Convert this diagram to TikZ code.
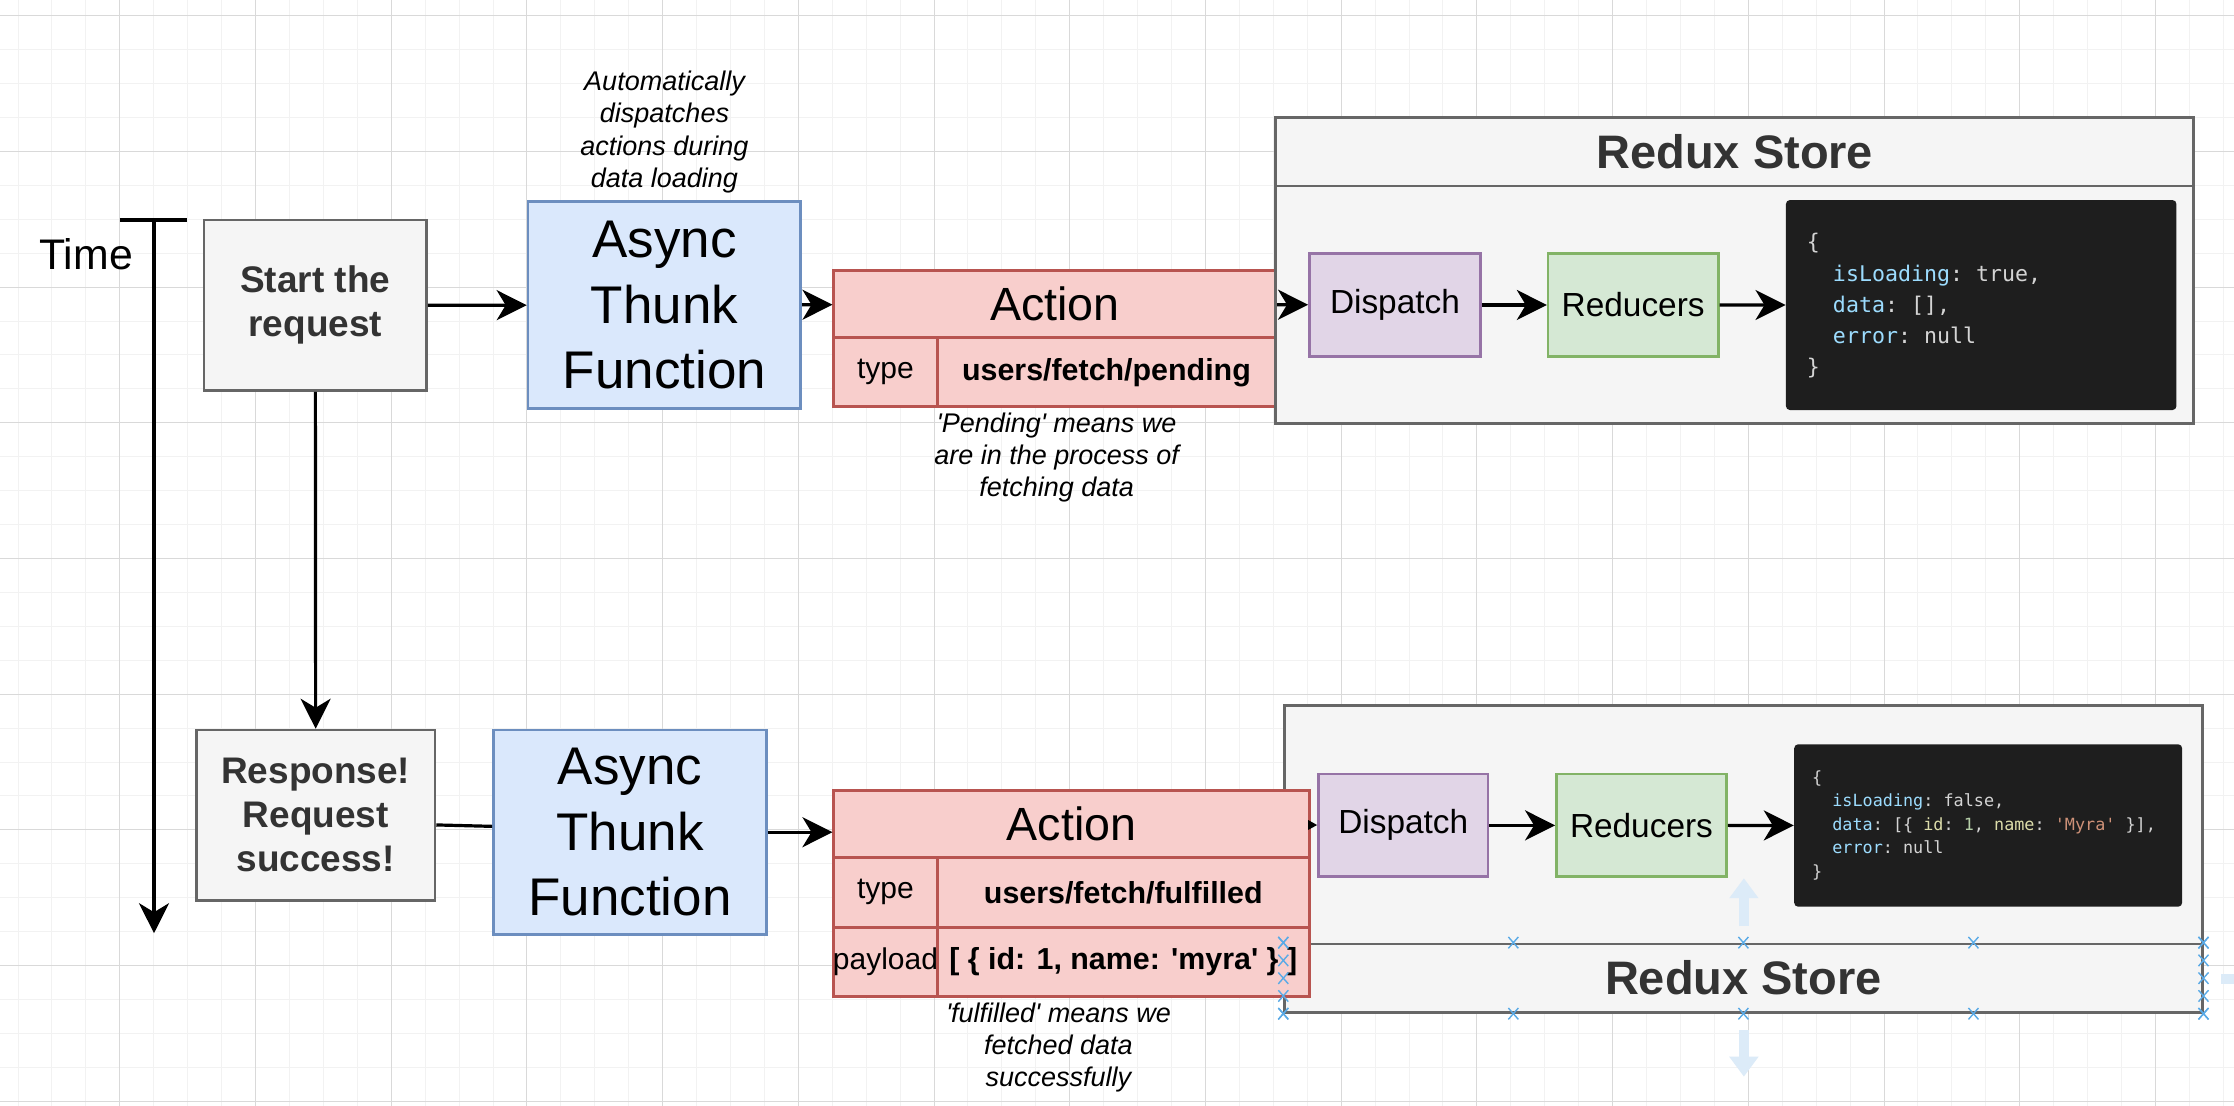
\documentclass[tikz,border=0pt]{standalone}
\usepackage{fontspec}
\setmainfont{Liberation Sans}
\setmonofont{DejaVu Sans Mono}
\usepackage{tikz}
\usetikzlibrary{arrows.meta,calc,shapes.misc}
\definecolor{greyfill}{HTML}{F5F5F5}
\definecolor{greyline}{HTML}{666666}
\definecolor{greytext}{HTML}{333333}
\definecolor{thunkfill}{HTML}{DAE8FC}
\definecolor{thunkline}{HTML}{6C8EBF}
\definecolor{actfill}{HTML}{F8CECC}
\definecolor{actline}{HTML}{B85450}
\definecolor{dispfill}{HTML}{E1D5E7}
\definecolor{displine}{HTML}{9673A6}
\definecolor{redfill}{HTML}{D5E8D4}
\definecolor{redline}{HTML}{82B366}
\definecolor{codebg}{HTML}{1E1E1E}
\definecolor{codetxt}{HTML}{D4D4D4}
\definecolor{codekey}{HTML}{9CDCFE}
\definecolor{codeprop}{HTML}{DCDCAA}
\definecolor{codenum}{HTML}{B5CEA8}
\definecolor{codestr}{HTML}{CE9178}
\definecolor{gridminor}{HTML}{F2F2F2}
\definecolor{gridmajor}{HTML}{D9D9D9}
\definecolor{selblue}{HTML}{5AAAE6}
\definecolor{hoverblue}{HTML}{DCEBF8}
\newcommand{\ux}{0.7125pt}
\newcommand{\ind}{\phantom{aa}}
\newcommand{\sq}{\textquotesingle}

\tikzset{
  sz/.style 2 args={minimum width=#1*\ux, minimum height=#2*\ux},
  flow/.style={line width=1.6pt, -{Stealth[length=15pt,width=15pt,inset=4.5pt]}},
  greybox/.style={draw=greyline, fill=greyfill, line width=1.3pt, text=greytext, inner sep=0pt, align=center, font={\fontsize{18.5}{22}\selectfont\bfseries}},
  thunk/.style={draw=thunkline, fill=thunkfill, line width=1.3pt, inner sep=0pt, align=center, font={\fontsize{26.5}{32.9}\selectfont}},
  actcell/.style={draw=actline, fill=actfill, line width=1.3pt, inner sep=0pt, font={\fontsize{15}{18}\selectfont}},
  acthead/.style={actcell, font={\fontsize{23.3}{28}\selectfont}},
  actval/.style={actcell, font={\fontsize{15.2}{18}\selectfont\bfseries}},
  storecell/.style={draw=greyline, fill=greyfill, line width=1.4pt, inner sep=0pt, text=greytext, font={\fontsize{23.5}{28}\selectfont\bfseries}},
  dispbox/.style={draw=displine, fill=dispfill, line width=1.3pt, inner sep=0pt, font={\fontsize{16.7}{20}\selectfont}},
  redbox/.style={draw=redline, fill=redfill, line width=1.3pt, inner sep=0pt, font={\fontsize{16.7}{20}\selectfont}},
  codebox/.style={fill=codebg, rounded corners=2pt, inner sep=0pt},
  codetext/.style={text=codetxt, inner sep=0pt, align=left, anchor=west},
  remark/.style={inner sep=0pt, align=center, font={\fontsize{13.5}{16.2}\selectfont\itshape}},
  selmark/.style={cross out, draw=selblue, line width=0.7pt, minimum width=4.3pt, minimum height=5pt, inner sep=0pt},
  hover/.style={draw=hoverblue, line width=5pt, -{Triangle[length=10pt,width=14pt]}}
}

\begin{document}
\begin{tikzpicture}[x=0.7125pt, y=-0.7125pt]
\useasboundingbox (0,0) rectangle (1568,776);
\clip (0,0) rectangle (1568,776);
\fill[white] (0,0) rectangle (1568,776);

% background grid
\foreach \i in {0,...,65}
  \draw[gridminor, line width=0.5pt] ({12.66+\i*23.8125},0) -- ++(0,776);
\foreach \j in {0,...,32}
  \draw[gridminor, line width=0.5pt] (0,{11+\j*23.8125}) -- ++(1568,0);
\foreach \i in {0,...,15}
  \draw[gridmajor, line width=0.5pt] ({84.1+\i*95.25},0) -- ++(0,776);
\foreach \j in {0,...,8}
  \draw[gridmajor, line width=0.5pt] (0,{11+\j*95.25}) -- ++(1568,0);

% time axis
\node[font={\fontsize{21.4}{25}\selectfont}, anchor=base, inner sep=0pt] (timelbl) at (60.4,189.5) {Time};
\coordinate (tickL) at (84.2,154.4);
\coordinate (tickR) at (131.4,154.4);
\coordinate (timeTop) at (108.1,154.4);
\coordinate (timeEnd) at (108.1,655);

% first request: pending
\node[greybox, sz={156.2}{119.8}] (start) at (221.3,214.3) {Start the\\request};
\node[thunk, sz={191.4}{145}] (thunkA) at (466.3,214.1) {Async\\Thunk\\Function};
\node[remark] (noteAuto) at (466.4,92.7) {Automatically\\dispatches\\actions during\\data loading};

\node[acthead, sz={310.2}{47}] (actA) at (740.3,213.5) {Action};
\node[actcell, sz={72.6}{48.5}] (typeA) at (621.5,261.25) {type};
\node[actval, sz={237.6}{48.5}] (valA) at (776.6,261.25) {users/fetch/pending};
\node[remark] (notePend) at (741.6,321.1) {\sq Pending\sq{} means we\\are in the process of\\fetching data};

\node[storecell, sz={644.4}{48.1}] (storeAhead) at (1217.6,106.45) {Redux Store};
\node[storecell, sz={644.4}{166.6}] (storeAbody) at (1217.6,213.8) {};
\node[dispbox, sz={120.2}{72.5}] (dispA) at (979.1,214.05) {Dispatch};
\node[redbox, sz={119.4}{72.5}] (redA) at (1146.3,214.05) {Reducers};
\node[codebox, sz={274.1}{147.4}] (codeA) at (1390.55,214.1) {};
\node[codetext, font={\fontsize{10.8}{15.6}\selectfont\ttfamily}] (stateA) at (1268,214.6) {%
\{\\
\ind\textcolor{codekey}{isLoading}: true,\\
\ind\textcolor{codekey}{data}: [],\\
\ind\textcolor{codekey}{error}: null\\
\}};

% second request: fulfilled
\node[storecell, sz={643.9}{167.3}] (storeBbody) at (1223.65,578.95) {};
\node[storecell, sz={643.9}{47.9}] (storeBhead) at (1223.65,686.55) {Redux Store};
\node[dispbox, sz={118.8}{72}] (dispB) at (984.9,579.3) {Dispatch};
\node[redbox, sz={119.4}{72}] (redB) at (1152.1,579.3) {Reducers};
\node[codebox, sz={272.3}{114}] (codeB) at (1395.45,579.4) {};
\node[codetext, font={\fontsize{8.4}{11.75}\selectfont\ttfamily}] (stateB) at (1271.6,579.3) {%
\{\\
\ind\textcolor{codekey}{isLoading}: false,\\
\ind\textcolor{codekey}{data}: [\{ \textcolor{codeprop}{id}: \textcolor{codenum}{1}, \textcolor{codeprop}{name}: \textcolor{codestr}{'Myra'} \}],\\
\ind\textcolor{codekey}{error}: null\\
\}};

\node[acthead, sz={333.8}{46.8}] (actB) at (752.1,578.4) {Action};
\node[actcell, sz={72.6}{49.1}] (typeB) at (621.5,626.35) {type};
\node[actval, sz={261.2}{49.1}] (valB) at (788.4,626.35) {users/fetch/fulfilled};
\node[actcell, sz={72.6}{48.6}] (payB) at (621.5,675.2) {\makebox[0pt]{payload}};
\node[actval, sz={261.2}{48.6}] (dataB) at (788.4,675.2) {[ \{ id: 1, name: \sq myra\sq{} \} ]};
\node[remark] (noteFul) at (742.9,735.2) {\sq fulfilled\sq{} means we\\fetched data\\successfully};

\node[greybox, sz={167.4}{119.8}] (resp) at (221.6,572.3) {Response!\\Request\\success!};
\node[thunk, sz={191.8}{143.4}] (thunkB) at (442.2,584.1) {Async\\Thunk\\Function};

% connectors
\draw[line width=1.6pt] (tickL) -- (tickR);
\draw[flow] (timeTop) -- (timeEnd);
\draw[flow] (start) -- (thunkA);
\draw[flow] (thunkA) -- (actA);
\draw[flow] (actA) -- (dispA);
\draw[flow] (dispA) -- (redA);
\draw[flow] (redA) -- (codeA);
\draw[flow] (start) -- (resp);
\draw[line width=1.6pt] (resp.east |- 0,579) -- (thunkB.west |- 0,580);
\draw[flow] (thunkB.east) -- (thunkB.east -| actB.west);
\draw[line width=1.6pt, -{Stealth[length=4.6pt,width=4.6pt,inset=0pt]}] (actB) -- (dispB);
\draw[flow] (dispB) -- (redB);
\draw[flow] (redB) -- (codeB);

% selection handles on the lower store header
\foreach \f [count=\k] in {0,0.25,0.5,0.75,1} {
  \node[selmark] (mkT\k) at ($(storeBhead.north west)!\f!(storeBhead.north east)$) {};
  \node[selmark] (mkB\k) at ($(storeBhead.south west)!\f!(storeBhead.south east)$) {};
  \node[selmark] (mkL\k) at ($(storeBhead.north west)!\f!(storeBhead.south west)$) {};
  \node[selmark] (mkR\k) at ($(storeBhead.north east)!\f!(storeBhead.south east)$) {};
}
\coordinate (hovUpA) at (1224,650);
\coordinate (hovUpB) at (1224,616.4);
\coordinate (hovDnA) at (1224,723);
\coordinate (hovDnB) at (1224,755.7);
\coordinate (hovRtA) at (1559,687);
\coordinate (hovRtB) at (1590,687);
\draw[hover] (hovUpA) -- (hovUpB);
\draw[hover] (hovDnA) -- (hovDnB);
\draw[hover] (hovRtA) -- (hovRtB);
\end{tikzpicture}
\end{document}
